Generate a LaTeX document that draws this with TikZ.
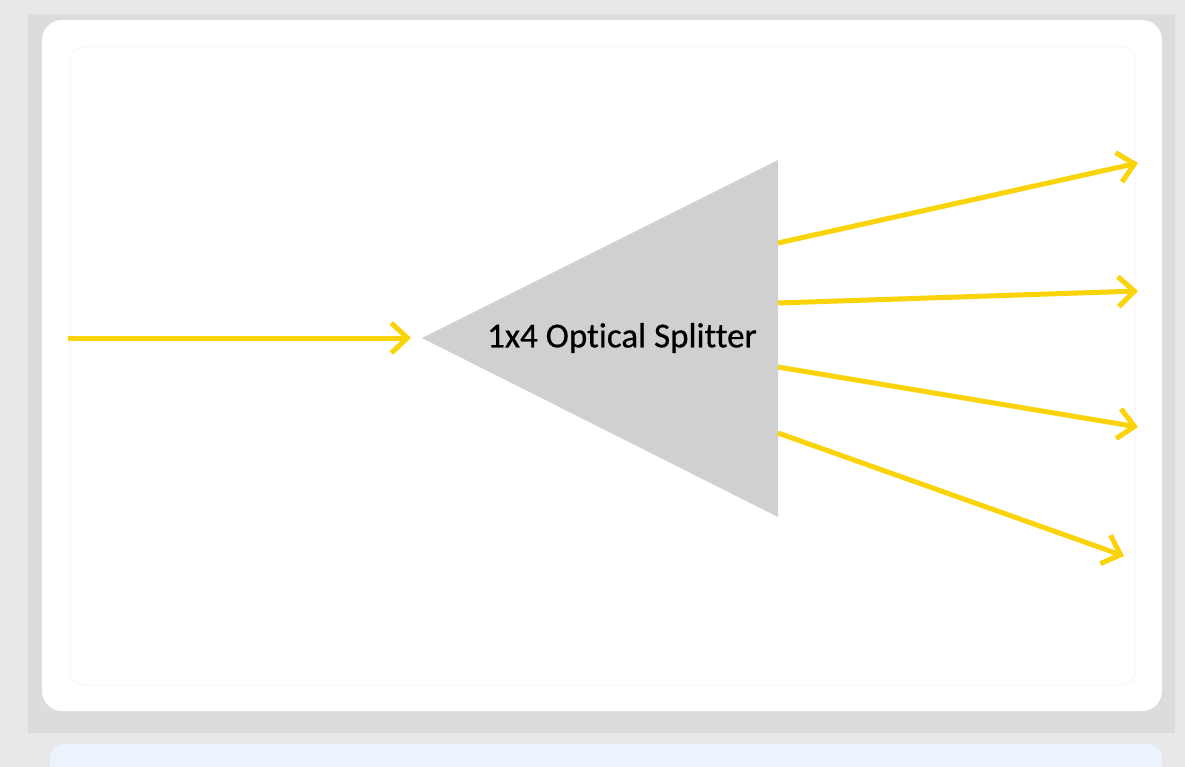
\documentclass[tikz,border=0pt]{standalone}
\usepackage{fontspec}
\newfontfamily\labelfont[Ligatures=NoCommon,FakeBold=0.6]{Carlito}
\usetikzlibrary{arrows.meta}
\definecolor{fibre}{RGB}{250,212,8}
\definecolor{splitgray}{RGB}{208,208,208}
\definecolor{outerbg}{RGB}{232,232,232}
\definecolor{bandbg}{RGB}{220,220,220}
\definecolor{notebg}{RGB}{237,243,253}
\tikzset{
  fibreline/.style={draw=fibre,line width=5pt,-{Straight Barb[length=16pt,width=30pt]}},
}
\begin{document}
\begin{tikzpicture}[x=1pt,y=-1pt]
					\useasboundingbox (0,0) rectangle (1185,767);
					% backdrop
					\fill[outerbg] (0,0) rectangle (1185,767);
					\fill[bandbg] (28,14) rectangle (1175,733);
					\fill[white,rounded corners=20pt] (42,20) rectangle (1162,711);
					\draw[gray!6,line width=1pt,rounded corners=14pt] (70,47) rectangle (1135,685);
					\fill[notebg,rounded corners=14pt] (50,744) rectangle (1162,790);
					% the splitter
					\coordinate (tip) at (422,338);
					\coordinate (top) at (778,160);
					\coordinate (bot) at (778,517);
					\fill[splitgray] (tip)--(top)--(bot)--cycle;
					\node (lab) at (622,338){\labelfont\fontsize{35}{40}\selectfont 1x4 Optical Splitter};
					% input
					\coordinate (in) at (68,338);
					\coordinate (inend) at (411,338);
					% ports and outputs
					\coordinate (p1) at (778,243);
					\coordinate (p2) at (778,303);
					\coordinate (p3) at (778,367);
					\coordinate (p4) at (778,433);
					\coordinate (o1) at (1138,163);
					\coordinate (o2) at (1138,291);
					\coordinate (o3) at (1138,427);
					\coordinate (o4) at (1124,556);
					\draw[fibreline] (in)--(inend);
					\draw[fibreline] (p1)--(o1);
					\draw[fibreline] (p2)--(o2);
					\draw[fibreline] (p3)--(o3);
					\draw[fibreline] (p4)--(o4);
					\end{tikzpicture}
\end{document}
